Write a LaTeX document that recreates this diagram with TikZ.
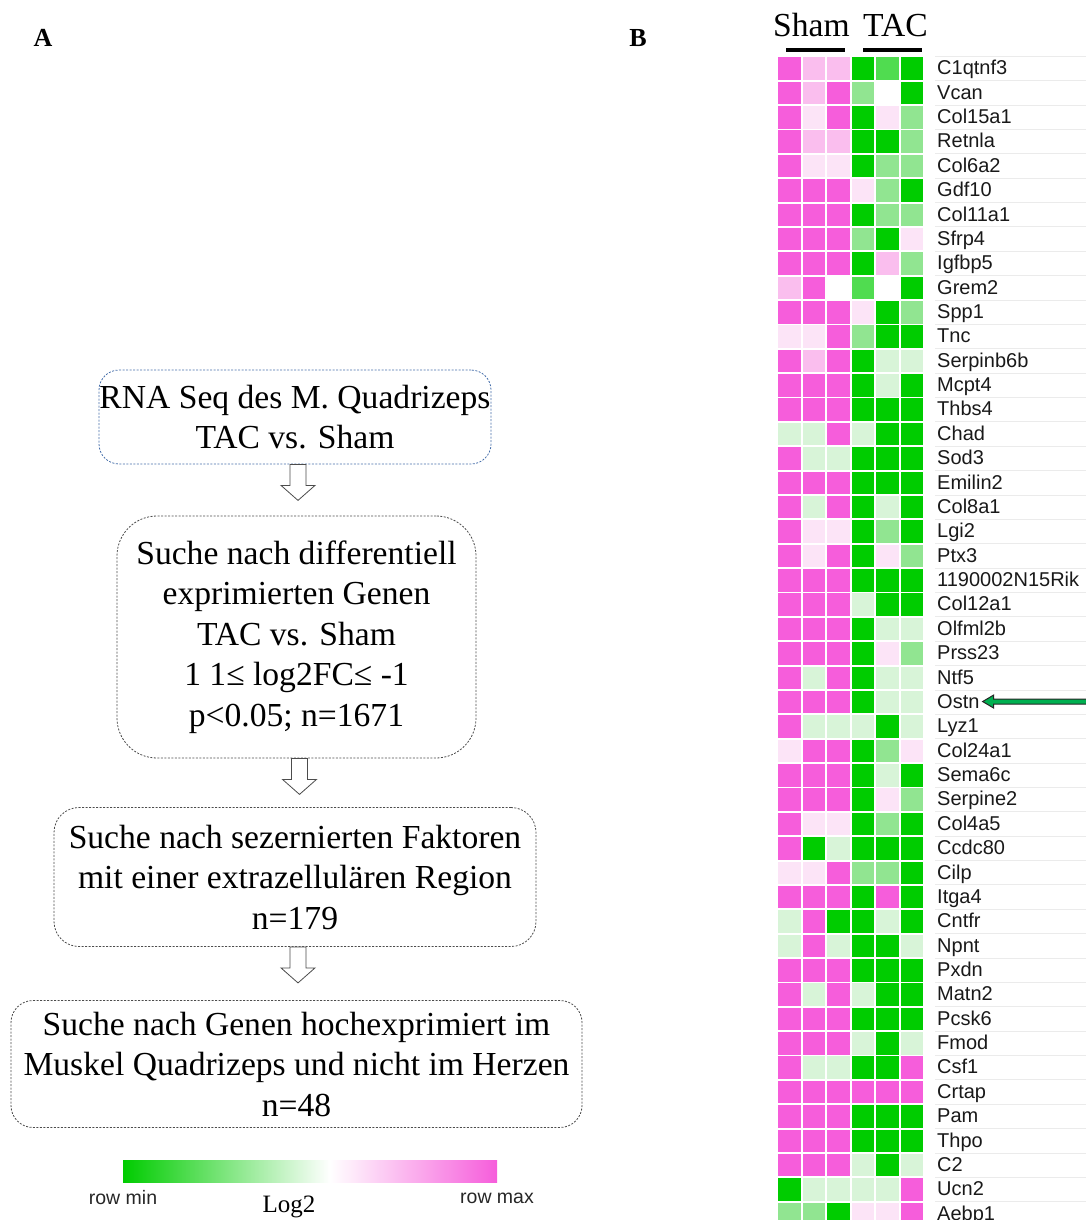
\documentclass[tikz,border=0pt]{standalone}
\usepackage{fontspec}
\setmainfont{Liberation Serif}
\setsansfont{Liberation Sans}
\usetikzlibrary{calc}
\definecolor{cK}{RGB}{246,93,219}
\definecolor{cP}{RGB}{250,190,238}
\definecolor{cQ}{RGB}{252,228,247}
\definecolor{cW}{RGB}{255,255,255}
\definecolor{cE}{RGB}{216,244,216}
\definecolor{cL}{RGB}{145,229,145}
\definecolor{cH}{RGB}{80,220,80}
\definecolor{cG}{RGB}{0,204,0}
\definecolor{boxblue}{RGB}{70,110,170}
\definecolor{ostngreen}{RGB}{0,176,80}
\def\flowarrow(#1){\draw[fill=white, draw=black!70, line width=0.8pt] ($(#1)+(-5,0)$) -- ++(0,21) -- ++(-9,0) -- ++(17,15) -- ++(17,-15) -- ++(-9,0) -- ++(0,-21) -- cycle;}

\begin{document}
\begin{tikzpicture}[x=1pt, y=-1pt,
	flowbox/.style={draw=black!70, dash pattern=on 2pt off 1.5pt, line width=0.8pt, align=center, inner sep=0pt, font=\fontsize{33.6}{40.5}\selectfont},
	gene/.style={anchor=base west, inner sep=0pt, text=black!90, font=\sffamily\fontsize{20}{21}\selectfont},
	barlabel/.style={inner sep=0pt, text=black!85, font=\sffamily\fontsize{19.5}{20}\selectfont}]
			%%%%% FRAME %%%%%
			\useasboundingbox (0,0) rectangle (1086,1220);
			\clip (0,0) rectangle (1086,1220);
			
			\node[font=\bfseries\fontsize{26}{28}\selectfont] (panelA) at (43,38) {A};
			\node[font=\bfseries\fontsize{26}{28}\selectfont] (panelB) at (638,38) {B};
			
			%%%%% FLOW %%%%%
			\node[flowbox, draw=boxblue, rounded corners=20pt, minimum width=392, minimum height=94] (b1) at (295,417) {RNA Seq des M. Quadrizeps\\TAC vs. Sham};
			\node[flowbox, rounded corners=40pt, minimum width=359, minimum height=242] (b2) at (296.5,637) {Suche nach differentiell\\exprimierten Genen\\TAC vs. Sham\\1 1≤ log2FC≤ -1\\p<0.05; n=1671};
			\node[flowbox, rounded corners=25pt, minimum width=482, minimum height=139] (b3) at (295,877) {Suche nach sezernierten Faktoren\\mit einer extrazellulären Region\\n=179};
			\node[flowbox, rounded corners=22pt, minimum width=571, minimum height=127] (b4) at (296.5,1064) {Suche nach Genen hochexprimiert im\\Muskel Quadrizeps und nicht im Herzen\\n=48};
			
			\flowarrow(b1.south)
			\flowarrow(b2.south)
			\flowarrow(b3.south)
			
			\shade[left color=cG, right color=white] (123,1160) rectangle (330,1182);
			\shade[left color=white, right color=cK] (330,1160) rectangle (497,1182);
			\node[barlabel] (rowmin) at (123,1198) {row min};
			\node[barlabel] (rowmax) at (497,1198) {row max};
			\node[inner sep=0pt, font=\fontsize{25}{27}\selectfont] (logtwo) at (289,1207) {Log2};
			
			%%%%% HEATMAP %%%%%
			\node[anchor=base west, inner sep=0pt, font=\fontsize{33.6}{36}\selectfont] (sham) at (773,37) {Sham};
			\node[anchor=base west, inner sep=0pt, font=\fontsize{33.6}{36}\selectfont] (tac) at (863,37) {TAC};
			\draw[line width=3.5pt] (786,50) -- (845,50);
			\draw[line width=3.5pt] (863,50) -- (922,50);
			
			\foreach \r in {0,...,48}
				\draw[black!8, line width=0.8pt] (935,{57.3+24.37*\r-1}) -- (1086,{57.3+24.37*\r-1});
			
			\foreach \gene/\ca/\cb/\cc/\cd/\ce/\cf [count=\r] in {
				C1qtnf3/K/P/P/G/H/G, Vcan/K/P/K/L/W/G, Col15a1/K/Q/K/G/Q/L, Retnla/K/P/P/G/G/L,
				Col6a2/K/Q/Q/G/L/L, Gdf10/K/K/K/Q/L/G, Col11a1/K/K/K/G/L/L, Sfrp4/K/K/K/L/G/Q,
				Igfbp5/K/K/K/G/P/L, Grem2/P/K/W/H/W/G, Spp1/K/K/K/Q/G/L, Tnc/Q/Q/K/L/G/G,
				Serpinb6b/K/P/K/G/E/E, Mcpt4/K/K/K/G/E/G, Thbs4/K/K/K/G/G/G, Chad/E/E/K/E/G/G,
				Sod3/K/E/E/G/G/G, Emilin2/K/K/K/G/G/G, Col8a1/K/E/K/G/E/G, Lgi2/K/Q/Q/G/L/G,
				Ptx3/K/Q/K/G/Q/L, 1190002N15Rik/K/K/K/G/G/G, Col12a1/K/K/K/E/G/G, Olfml2b/K/K/K/G/E/E,
				Prss23/K/K/K/G/Q/L, Ntf5/K/E/K/G/E/E, Ostn/K/K/K/G/E/E, Lyz1/K/E/E/E/G/E,
				Col24a1/Q/K/K/G/L/Q, Sema6c/K/K/K/G/E/G, Serpine2/K/K/K/G/Q/L, Col4a5/K/Q/Q/G/L/G,
				Ccdc80/K/G/E/G/G/G, Cilp/Q/Q/K/L/L/G, Itga4/K/K/K/G/K/G, Cntfr/E/K/G/G/E/G,
				Npnt/E/K/E/G/G/E, Pxdn/K/K/K/G/G/G, Matn2/K/E/K/E/G/G, Pcsk6/K/K/K/G/G/G,
				Fmod/K/K/K/E/G/E, Csf1/K/E/E/G/G/K, Crtap/K/K/K/K/K/K, Pam/K/K/K/G/G/G,
				Thpo/K/K/K/G/G/G, C2/K/K/K/E/G/E, Ucn2/G/E/E/E/E/K, Aebp1/L/L/G/Q/Q/K}
			{
				\foreach \cl [count=\k] in {\ca,\cb,\cc,\cd,\ce,\cf}
					\fill[fill=c\cl] ({778.3+24.5*(\k-1)},{57.3+24.37*(\r-1)}) rectangle ++(22.5,22.5);
				\node[gene] (g\r) at (937,{57.3+24.37*(\r-1)+17.5}) {\gene};
			}
			
			\coordinate (ostntip) at ($(g27.east)+(3,0)$);
			\draw[fill=ostngreen, draw=black!85, line width=1pt] (ostntip) -- ++(11,-6.5) -- ++(0,4) -- ++(120,0) -- ++(0,5) -- ++(-120,0) -- ++(0,4) -- cycle;
			%%%%% END %%%%%
		\end{tikzpicture}
\end{document}
